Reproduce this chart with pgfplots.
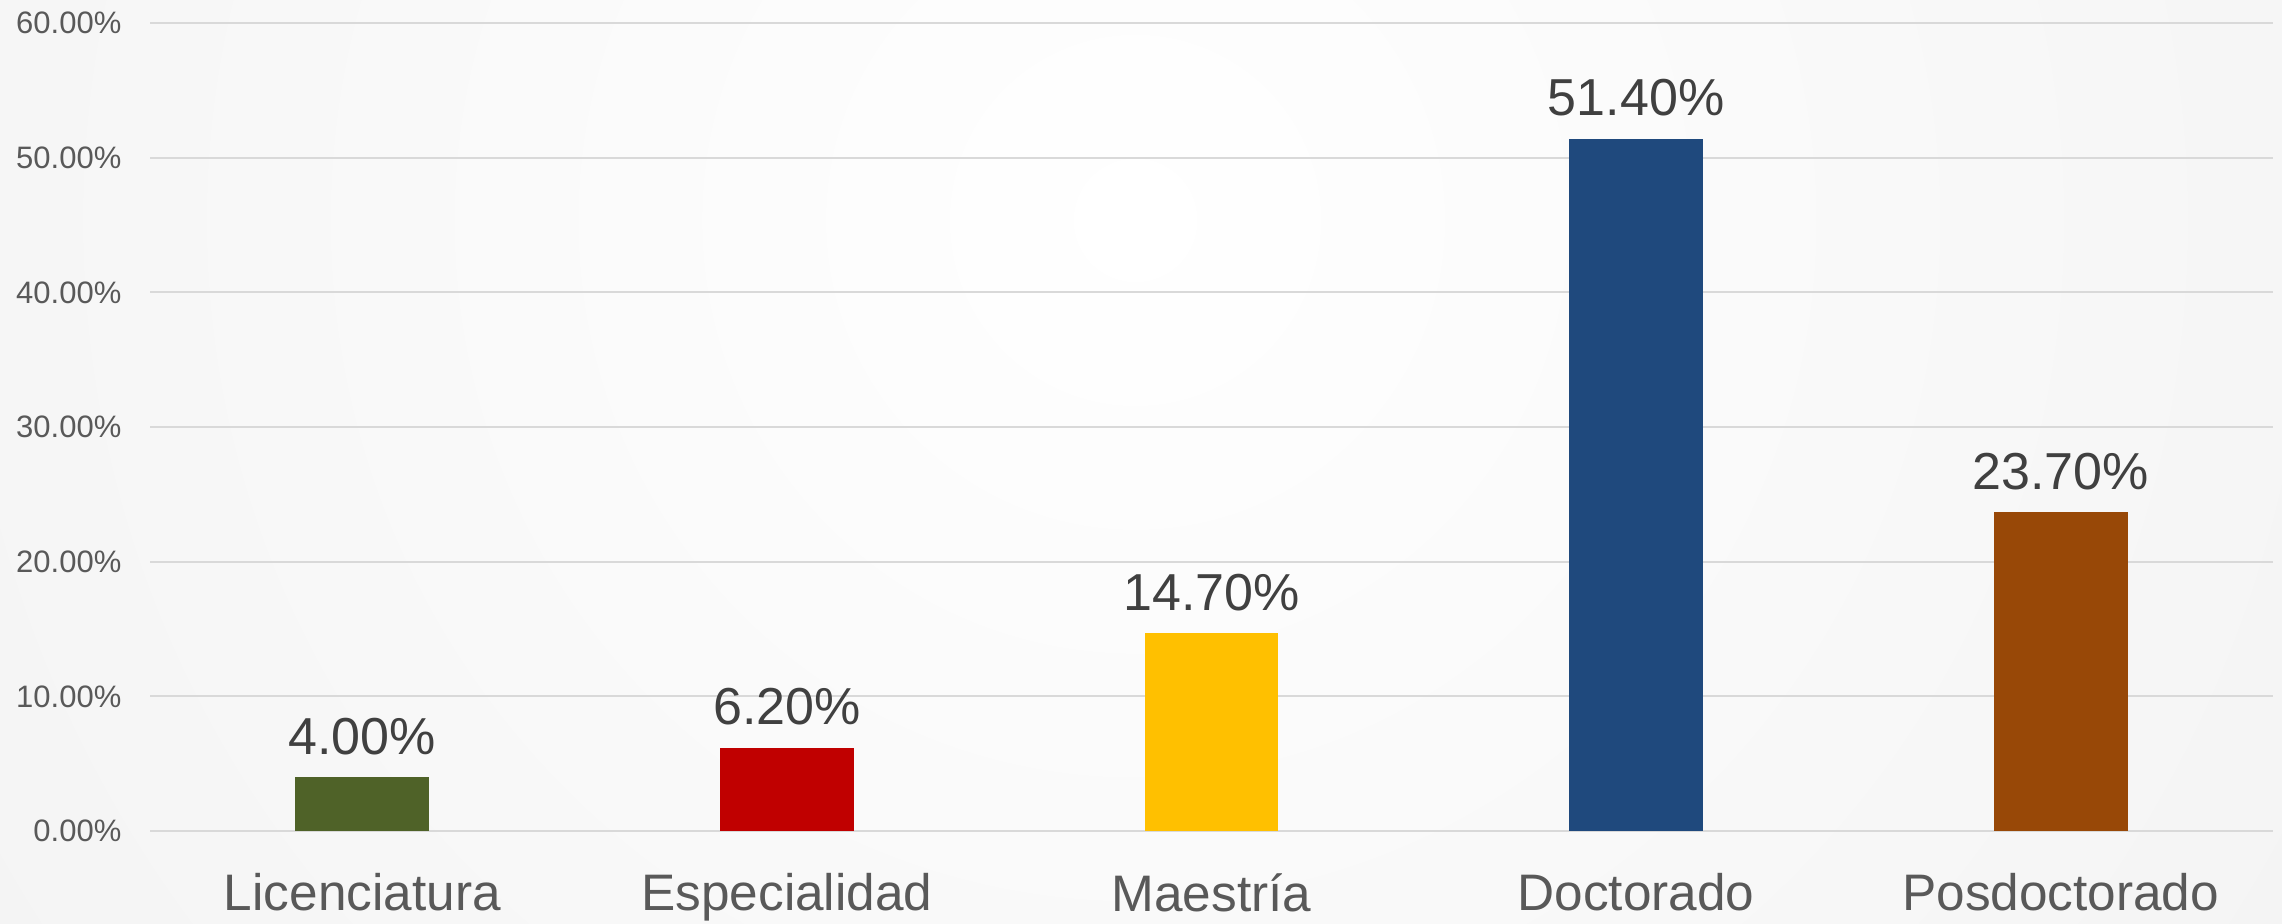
\documentclass[border=0pt]{standalone}
\usepackage{fontspec}
\setmainfont{Liberation Sans}
\usepackage{pgfplots}
\pgfplotsset{compat=1.18}
\definecolor{bgedge}{HTML}{EAEAEA}
\definecolor{gridc}{HTML}{D9D9D9}
\definecolor{tickc}{HTML}{595959}
\definecolor{labc}{HTML}{404040}
\definecolor{cLic}{HTML}{4F6228}
\definecolor{cEsp}{HTML}{C00000}
\definecolor{cMae}{HTML}{FFC000}
\definecolor{cDoc}{HTML}{1F497D}
\definecolor{cPos}{HTML}{984807}
\begin{document}
\begin{tikzpicture}
\useasboundingbox (0,0) rectangle (684.6pt,276.9pt);
\begin{scope}
\clip (0,0) rectangle (684.6pt,276.9pt);
\fill[bgedge] (0,0) rectangle (684.6pt,276.9pt);
\shade[inner color=white, outer color=bgedge] (340.5pt,210.9pt) circle (780pt);
\end{scope}
\begin{axis}[
  at={(45pt,27.6pt)}, anchor=south west,
  scale only axis, width=636.9pt, height=242.4pt,
  xmin=-0.5, xmax=4.5, ymin=0, ymax=60,
  ybar, bar width=0.315, bar shift=0pt,
  xtick={0,1,2,3,4},
  xticklabels={Licenciatura,Especialidad,Maestría,Doctorado,Posdoctorado},
  ytick={0,10,20,30,40,50,60},
  yticklabel={\pgfmathprintnumber[fixed,fixed zerofill,precision=2]{\tick}\%},
  ymajorgrids, grid style={draw=gridc, line width=0.6pt},
  axis line style={draw=none}, major tick length=0pt,
  tick style={draw=none},
  /pgf/number format/assume math mode=true,
  yticklabel style={font=\fontsize{9.3}{11}\selectfont, text=tickc, anchor=east, inner sep=0pt, xshift=-8.4pt},
  xticklabel style={font=\fontsize{15.4}{18}\selectfont, text=tickc, anchor=north, inner sep=0pt, yshift=-12.6pt},
  nodes near coords={\pgfmathprintnumber[fixed,fixed zerofill,precision=2]{\pgfplotspointmeta}\%},
  every node near coord/.append style={font=\fontsize{15.6}{18}\selectfont, text=labc, anchor=south, inner sep=0pt, yshift=6.5pt},
  clip=false,
]
\addplot[fill=cLic, draw=none] coordinates {(0,4.0)};
\addplot[fill=cEsp, draw=none] coordinates {(1,6.2)};
\addplot[fill=cMae, draw=none] coordinates {(2,14.7)};
\addplot[fill=cDoc, draw=none] coordinates {(3,51.4)};
\addplot[fill=cPos, draw=none] coordinates {(4,23.7)};
\end{axis}
\end{tikzpicture}
\end{document}
